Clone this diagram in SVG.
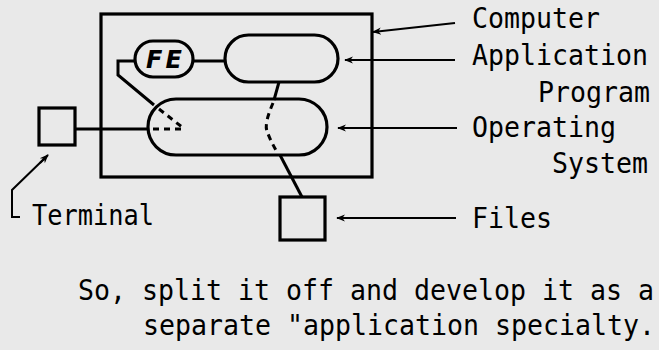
<svg xmlns="http://www.w3.org/2000/svg" width="659" height="350" viewBox="0 0 659 350">
<defs>
<marker id="ah" viewBox="0 0 10 10" refX="9" refY="5" markerWidth="9" markerHeight="9" markerUnits="userSpaceOnUse" orient="auto">
<path d="M0,1 L10,5 L0,9 L3,5 Z" fill="#000"/>
</marker>
</defs>
<style>
.bg{fill:#e9e9e9}
.sh{fill:none;stroke:#000;stroke-width:3.2}
.ln{fill:none;stroke:#000;stroke-width:3}
.ds{fill:none;stroke:#000;stroke-width:3;stroke-dasharray:6,5}
.ar{fill:none;stroke:#000;stroke-width:2;marker-end:url(#ah)}
.t{font-family:"DejaVu Sans Mono","Liberation Mono",monospace;font-size:28.5px;fill:#000}
.fe{font-family:"DejaVu Sans","Liberation Sans",sans-serif;font-size:24px;font-weight:bold;font-style:italic;fill:#000;letter-spacing:3px}
</style>
<rect class="bg" x="0" y="0" width="659" height="350"/>
<g id="computer"><rect class="sh" x="101" y="14" width="271" height="163"/></g>
<g id="fe"><rect class="sh" x="135" y="41" width="58" height="36" rx="18"/><text class="fe" x="165.5" y="68" text-anchor="middle">FE</text></g>
<g id="app"><rect class="sh" x="225" y="35" width="113" height="47" rx="23.5"/></g>
<g id="os"><rect class="sh" x="148" y="99" width="179" height="56" rx="28"/></g>
<g id="terminal"><rect class="sh" x="39" y="108" width="36" height="37"/></g>
<g id="files"><rect class="sh" x="280" y="197" width="45" height="43"/></g>
<g id="connectors">
<polyline class="ln" points="135,61 118,61 118,75 154,105"/>
<line class="ln" x1="193" y1="61" x2="225" y2="61"/>
<line class="ln" x1="75" y1="129" x2="148" y2="129"/>
<line class="ln" x1="279" y1="82" x2="274" y2="100"/>
<line class="ln" x1="280" y1="155" x2="302" y2="197"/>
<line class="ds" x1="159" y1="109" x2="182" y2="127"/>
<line class="ds" x1="153" y1="129" x2="186" y2="129"/>
<path class="ds" d="M273,103 Q264,124 267,131 Q270,140 277,152"/>
<line class="ar" x1="455" y1="23" x2="373" y2="32"/>
<line class="ar" x1="455" y1="60" x2="345" y2="60"/>
<line class="ar" x1="457" y1="128" x2="338" y2="128"/>
<line class="ar" x1="456" y1="218" x2="337" y2="218"/>
<polyline class="ln" style="stroke-width:2" points="20,217 12,217 12,190 46,157"/>
<line class="ar" x1="40" y1="163" x2="48" y2="155"/>
</g>
<g id="labels">
<text class="t" x="472" y="28" textLength="128" lengthAdjust="spacingAndGlyphs">Computer</text>
<text class="t" x="472" y="65" textLength="176" lengthAdjust="spacingAndGlyphs">Application</text>
<text class="t" x="538" y="102" textLength="112" lengthAdjust="spacingAndGlyphs">Program</text>
<text class="t" x="472" y="137" textLength="144" lengthAdjust="spacingAndGlyphs">Operating</text>
<text class="t" x="552" y="173" textLength="96" lengthAdjust="spacingAndGlyphs">System</text>
<text class="t" x="472" y="228" textLength="80" lengthAdjust="spacingAndGlyphs">Files</text>
<text class="t" x="32" y="225" textLength="122" lengthAdjust="spacingAndGlyphs">Terminal</text>
<text class="t" x="78" y="300" textLength="576" lengthAdjust="spacingAndGlyphs">So, split it off and develop it as a</text>
<text class="t" x="143" y="335" textLength="512" lengthAdjust="spacingAndGlyphs">separate "application specialty.</text>
</g>
</svg>
